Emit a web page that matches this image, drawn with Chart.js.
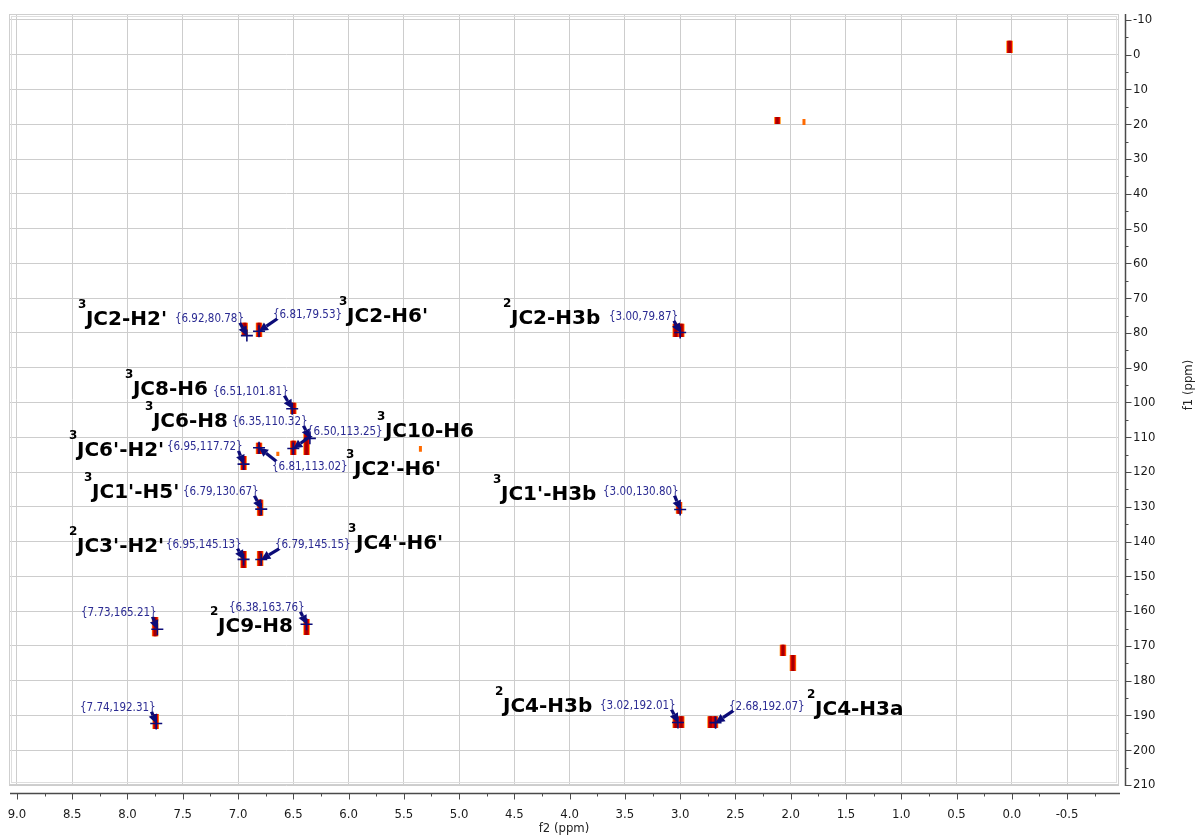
<!DOCTYPE html>
<html>
<head>
<meta charset="utf-8">
<title>HMBC</title>
<script src="https://cdn.jsdelivr.net/npm/chart.js@4.4.1/dist/chart.umd.min.js"></script>
<style>
  html, body { margin: 0; padding: 0; background: #fff; }
  #wrap { width: 1200px; height: 836px; }
</style>
</head>
<body>
<div id="wrap"><canvas id="hmbc"></canvas></div>
<script>
// cross peaks: f2 position, f1 extent (ppm), level 1 = strong, 0 = weak
const peakF2     = [0.02, 2.12, 1.88, 6.94, 6.81, 3.04, 2.99, 6.50, 6.38, 6.50, 6.81, 6.64, 5.35, 6.95, 6.80, 3.01, 6.95, 6.80, 7.75, 6.38, 2.07, 1.98, 7.745, 3.04, 2.99, 2.725, 2.685];
const peakF1From = [-4.0, 17.9, 18.5, 77.1, 77.1, 77.4, 77.4, 100.1, 109.0, 111.0, 111.6, 114.2, 112.5, 115.4, 128.0, 128.6, 142.7, 142.7, 161.7, 162.3, 169.7, 172.6, 189.6, 190.2, 190.2, 190.2, 190.2];
const peakF1To   = [-0.5, 19.9, 20.2, 80.9, 81.2, 81.2, 81.2, 103.3, 115.1, 115.1, 114.8, 115.4, 114.2, 119.4, 132.6, 132.0, 147.6, 147.0, 167.2, 166.9, 172.9, 177.2, 193.9, 193.6, 193.6, 193.6, 193.6];
const peakLevel  = [1, 1, 0, 1, 1, 1, 1, 1, 1, 1, 1, 0, 0, 1, 1, 1, 1, 1, 1, 1, 1, 1, 1, 1, 1, 1, 1];

// picked peaks {f2,f1}
const pickF2 = [6.92, 6.81, 3.00, 6.51, 6.35, 6.50, 6.95, 6.81, 6.79, 3.00, 6.95, 6.79, 7.73, 6.38, 7.74, 3.02, 2.68];
const pickF1 = [80.78, 79.53, 79.87, 101.81, 110.32, 113.25, 117.72, 113.02, 130.67, 130.80, 145.13, 145.15, 165.21, 163.76, 192.31, 192.01, 192.07];

// assignments (n of nJ, coupling)
const assignN = ['3', '3', '2', '3', '3', '3', '3', '3', '3', '3', '2', '3', '2', '2', '2'];
const assignText = ["JC2-H2'", "JC2-H6'", 'JC2-H3b', 'JC8-H6', 'JC6-H8', 'JC10-H6', "JC6'-H2'", "JC2'-H6'", "JC1'-H5'", "JC1'-H3b", "JC3'-H2'", "JC4'-H6'", 'JC9-H8', 'JC4-H3b', 'JC4-H3a'];

const f2Ticks = [9.0, 8.5, 8.0, 7.5, 7.0, 6.5, 6.0, 5.5, 5.0, 4.5, 4.0, 3.5, 3.0, 2.5, 2.0, 1.5, 1.0, 0.5, 0.0, -0.5];
const f1Ticks = [-10, 0, 10, 20, 30, 40, 50, 60, 70, 80, 90, 100, 110, 120, 130, 140, 150, 160, 170, 180, 190, 200, 210];

// where the texts sit (left edge, baseline) in ppm
const calloutAtF2 = [7.571, 6.684, 3.644, 7.227, 7.055, 6.376, 7.643, 6.693, 7.498, 3.698, 7.652, 6.666, 8.421, 7.082, 8.430, 3.725, 2.558];
const calloutAtF1 = [76.85, 75.7, 76.3, 97.83, 106.5, 109.3, 113.7, 119.4, 126.6, 126.6, 141.8, 141.8, 161.4, 159.97, 188.7, 188.1, 188.4];
const assignAtF2 = [8.376, 6.014, 4.531, 7.951, 7.770, 5.671, 8.457, 5.951, 8.321, 4.621, 8.457, 5.933, 7.181, 4.603, 1.780];
const assignAtF1 = [77.71, 76.85, 77.4, 97.83, 107.05, 109.9, 115.4, 120.85, 127.46, 128.0, 142.9, 142.1, 166.0, 189.0, 189.9];

const TICK_FONT = '13px "DejaVu Sans Condensed", "DejaVu Sans", sans-serif';
const NAVY = '#0c0c78';

function segments(keep) {
    const out = [];
    peakF2.forEach((x, i) => {
        if (!keep(i)) return;
        out.push({ x, y: peakF1From[i] }, { x, y: peakF1To[i] }, { x, y: null });
    });
    return out;
}

const strong = segments((i) => peakLevel[i] === 1);
const weak = segments((i) => peakLevel[i] === 0);
const picks = pickF2.map((x, i) => ({ x, y: pickF1[i] }));

function drawArrow(ctx, x0, y0, x1, y1) {
    const a = Math.atan2(y1 - y0, x1 - x0);
    const head = 9, half = 4.5;
    const bx = x1 - head * Math.cos(a), by = y1 - head * Math.sin(a);
    ctx.lineWidth = 3.2;
    ctx.beginPath();
    ctx.moveTo(x0, y0);
    ctx.lineTo(bx, by);
    ctx.stroke();
    ctx.beginPath();
    ctx.moveTo(x1, y1);
    ctx.lineTo(bx + half * Math.sin(a), by - half * Math.cos(a));
    ctx.lineTo(bx - half * Math.sin(a), by + half * Math.cos(a));
    ctx.closePath();
    ctx.fill();
}

const hmbcDecor = {
    id: 'hmbcDecor',
    beforeDatasetsDraw(chart) {
        const { ctx, chartArea: a } = chart;
        ctx.save();
        ctx.lineWidth = 1;
        ctx.strokeStyle = '#cfcfcf';
        ctx.strokeRect(a.left + 0.5, a.top + 0.5, a.width - 1, a.height - 1);
        ctx.strokeStyle = '#dedede';
        ctx.strokeRect(a.left + 2.5, a.top + 2.5, a.width - 5, a.height - 5);
        ctx.restore();
    },
    afterDatasetsDraw(chart) {
        const { ctx, scales: { x, y } } = chart;
        ctx.save();
        // callouts
        ctx.font = '11.5px "DejaVu Sans Condensed", "DejaVu Sans", sans-serif';
        ctx.textBaseline = 'alphabetic';
        pickF2.forEach((f2, i) => {
            const text = '{' + f2.toFixed(2) + ',' + pickF1[i].toFixed(2) + '}';
            const tx = x.getPixelForValue(calloutAtF2[i]);
            const ty = y.getPixelForValue(calloutAtF1[i]);
            const w = ctx.measureText(text).width;
            ctx.fillStyle = '#2a2a92';
            ctx.fillText(text, tx, ty);
            const px = x.getPixelForValue(f2), py = y.getPixelForValue(pickF1[i]);
            const sx = Math.min(Math.max(px, tx + 4), tx + w - 4);
            const sy = Math.min(Math.max(py, ty - 9), ty + 1);
            ctx.fillStyle = NAVY;
            ctx.strokeStyle = NAVY;
            drawArrow(ctx, sx, sy, px, py);
        });
        // assignments
        ctx.fillStyle = '#000';
        assignText.forEach((t, i) => {
            const tx = x.getPixelForValue(assignAtF2[i]);
            const ty = y.getPixelForValue(assignAtF1[i]);
            ctx.font = 'bold 12px "DejaVu Sans", sans-serif';
            ctx.fillText(assignN[i], tx - 8, ty - 17);
            ctx.font = 'bold 20px "DejaVu Sans", sans-serif';
            ctx.fillText(t, tx, ty);
        });
        ctx.restore();
    },
    afterDraw(chart) {
        const { ctx, chartArea: a, scales: { x, y } } = chart;
        ctx.save();
        ctx.strokeStyle = '#4a4a4a';
        // f2 axis
        const ay = a.bottom + 8.5;
        ctx.lineWidth = 1.5;
        ctx.beginPath();
        ctx.moveTo(a.left + 1, ay);
        ctx.lineTo(a.right + 1, ay);
        ctx.stroke();
        ctx.lineWidth = 1;
        ctx.beginPath();
        for (let v = -0.75; v <= 9.0; v += 0.25) {
            const px = Math.round(x.getPixelForValue(v)) + 0.5;
            const major = Math.abs(v * 2 - Math.round(v * 2)) < 1e-6;
            ctx.moveTo(px, ay);
            ctx.lineTo(px, ay + (major ? 6 : 3));
        }
        ctx.stroke();
        // f1 axis
        const ax = a.right + 6.5;
        ctx.lineWidth = 1.5;
        ctx.beginPath();
        ctx.moveTo(ax, a.top);
        ctx.lineTo(ax, a.bottom + 1);
        ctx.stroke();
        ctx.lineWidth = 1;
        ctx.beginPath();
        for (let v = -10; v <= 210; v += 5) {
            const py = Math.round(y.getPixelForValue(v)) + 0.5;
            ctx.moveTo(ax, py);
            ctx.lineTo(ax + (v % 10 === 0 ? 6 : 3), py);
        }
        ctx.stroke();
        // f1 title
        ctx.fillStyle = '#222';
        ctx.font = TICK_FONT;
        ctx.textAlign = 'center';
        ctx.textBaseline = 'middle';
        ctx.translate(1189, 385);
        ctx.rotate(-Math.PI / 2);
        ctx.fillText('f1 (ppm)', 0, 0);
        ctx.restore();
    }
};

new Chart(document.getElementById('hmbc'), {
    type: 'scatter',
    data: {
        datasets: [
            { data: picks, showLine: false, pointStyle: 'cross', pointRadius: 6, pointBorderWidth: 1.6, pointBorderColor: NAVY, order: 0 },
            { data: strong, showLine: true, spanGaps: false, pointRadius: 0, borderColor: '#a00000', borderWidth: 2.5, borderCapStyle: 'butt', order: 1 },
            { data: strong, showLine: true, spanGaps: false, pointRadius: 0, borderColor: '#e40000', borderWidth: 5, borderCapStyle: 'butt', order: 2 },
            { data: strong, showLine: true, spanGaps: false, pointRadius: 0, borderColor: '#ff8a00', borderWidth: 6.5, borderCapStyle: 'butt', order: 3 },
            { data: weak, showLine: true, spanGaps: false, pointRadius: 0, borderColor: '#ff6a00', borderWidth: 3, borderCapStyle: 'butt', order: 4 },
        ],
    },
    options: {
        responsive: true,
        maintainAspectRatio: false,
        animation: false,
        layout: { padding: { left: 9, top: 14, right: 0, bottom: 0 } },
        plugins: {
            legend: { display: false },
            tooltip: { enabled: false },
        },
        scales: {
            x: {
                type: 'linear',
                reverse: true,
                min: -0.97,
                max: 9.072,
                afterBuildTicks: (s) => { s.ticks = f2Ticks.map((v) => ({ value: v })); },
                afterFit: (s) => { s.height = 51; s.paddingLeft = 0; s.paddingRight = 0; },
                border: { display: false },
                grid: { color: '#cdcdcd', drawTicks: false },
                ticks: {
                    padding: 22,
                    color: '#1a1a1a',
                    font: { family: '"DejaVu Sans Condensed", "DejaVu Sans", sans-serif', size: 13 },
                    callback: (v) => Number(v).toFixed(1),
                },
                title: {
                    display: true,
                    text: 'f2 (ppm)',
                    color: '#222',
                    padding: { top: 0, bottom: 0 },
                    font: { family: '"DejaVu Sans Condensed", "DejaVu Sans", sans-serif', size: 13 },
                },
            },
            y: {
                type: 'linear',
                position: 'right',
                reverse: true,
                min: -11.7,
                max: 210,
                afterBuildTicks: (s) => { s.ticks = f1Ticks.map((v) => ({ value: v })); },
                afterFit: (s) => { s.width = 81; s.paddingTop = 0; s.paddingBottom = 0; },
                border: { display: false },
                grid: { color: '#cdcdcd', drawTicks: false },
                ticks: {
                    padding: 14,
                    color: '#1a1a1a',
                    font: { family: '"DejaVu Sans Condensed", "DejaVu Sans", sans-serif', size: 13 },
                },
            },
        },
    },
    plugins: [hmbcDecor],
});
</script>
</body>
</html>
